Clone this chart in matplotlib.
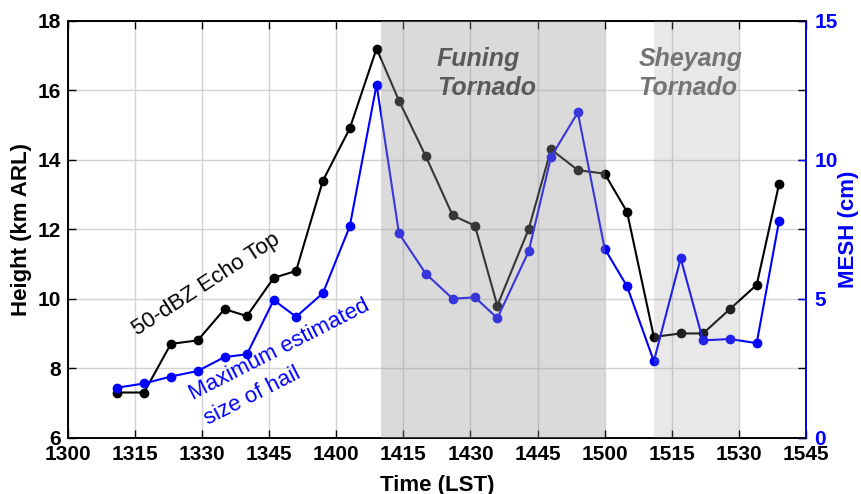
import numpy as np
import matplotlib
matplotlib.use('Agg')
import matplotlib.pyplot as plt

plt.rcParams['font.family'] = ['Liberation Sans', 'DejaVu Sans']

# radar volume times (LST, hhmm)
times = [1311, 1317, 1323, 1329, 1335, 1340, 1346, 1351, 1357, 1403,
         1409, 1414, 1420, 1426, 1431, 1436, 1443, 1448, 1454, 1500,
         1505, 1511, 1517, 1522, 1528, 1534, 1539]

# 50-dBZ echo top height (km ARL)
echo_top = [7.3, 7.3, 8.7, 8.8, 9.7, 9.5, 10.6, 10.8, 13.4, 14.9,
            17.2, 15.7, 14.1, 12.4, 12.1, 9.8, 12.0, 14.3, 13.7, 13.6,
            12.5, 8.9, 9.0, 9.0, 9.7, 10.4, 13.3]

# maximum estimated size of hail (cm)
mesh = [1.8, 1.95, 2.2, 2.4, 2.9, 3.0, 4.95, 4.35, 5.2, 7.6,
        12.7, 7.35, 5.9, 5.0, 5.05, 4.3, 6.7, 10.1, 11.7, 6.8,
        5.45, 2.75, 6.45, 3.5, 3.55, 3.4, 7.8]

# tornado periods (hhmm)
funing = (1410, 1500)
sheyang = (1511, 1530)

xticks = [1300, 1315, 1330, 1345, 1400, 1415, 1430, 1445, 1500,
          1515, 1530, 1545]


def to_min(t):
    # hhmm -> minutes after 13:00
    return (t // 100 - 13) * 60 + t % 100


x = np.array([to_min(t) for t in times])

fig = plt.figure(figsize=(8.61, 4.94), dpi=100)
ax = fig.add_axes([0.079, 0.114, 0.857, 0.844])
ax2 = ax.twinx()

ax.plot(x, echo_top, '-o', color='black', lw=1.5, ms=6, zorder=3)
ax2.plot(x, mesh, '-o', color='#0000ff', lw=1.5, ms=6, zorder=3)

# shaded tornado periods, drawn over the curves
ax2.axvspan(to_min(funing[0]), to_min(funing[1]), facecolor='#999999',
            alpha=0.36, lw=0, zorder=5)
ax2.axvspan(to_min(sheyang[0]), to_min(sheyang[1]), facecolor='#999999',
            alpha=0.22, lw=0, zorder=5)

ax.set_xlim(0, 165)
ax.set_ylim(6, 18)
ax2.set_ylim(0, 15)
ax.set_xticks([to_min(t) for t in xticks])
ax.set_xticklabels([str(t) for t in xticks])
ax.set_yticks(np.arange(6, 19, 2))
ax2.set_yticks([0, 5, 10, 15])

ax.grid(True, color='#d2d2d2', lw=1)
ax.set_axisbelow(True)

ax.tick_params(direction='in', length=6, width=1, top=True, right=True,
               labelsize=15, pad=5)
ax2.tick_params(direction='in', length=6, width=1, colors='#0000ff',
                labelsize=15, pad=6)
for lab in ax.get_xticklabels() + ax.get_yticklabels() + ax2.get_yticklabels():
    lab.set_fontweight('bold')

for s in ax.spines.values():
    s.set_linewidth(1.2)
for s in ax2.spines.values():
    s.set_linewidth(1.2)
ax2.spines['right'].set_color('#0000ff')

ax.set_xlabel('Time (LST)', fontsize=16, fontweight='bold', labelpad=8)
ax.set_ylabel('Height (km ARL)', fontsize=16, fontweight='bold', labelpad=4)
ax2.set_ylabel('MESH (cm)', fontsize=16, fontweight='bold', color='#0000ff',
               labelpad=0)

# curve labels
ax.text(31.5, 10.28, '50-dBZ Echo Top', fontsize=16, rotation=33,
        ha='center', va='baseline', rotation_mode='anchor', color='black')
ax.text(28.0, 7.08, 'Maximum estimated', fontsize=16, rotation=27,
        ha='left', va='baseline', rotation_mode='anchor', color='#0000ff')
ax.text(31.4, 6.37, 'size of hail', fontsize=16, rotation=27,
        ha='left', va='baseline', rotation_mode='anchor', color='#0000ff')

# tornado labels
for lx, c, name in [(82.5, '#5a5a5a', 'Funing'), (127.5, '#747474', 'Sheyang')]:
    ax2.text(lx, 15 - (66 - 20.7) / 27.8, name, fontsize=18, fontweight='bold',
             style='italic', color=c, ha='left', va='baseline', zorder=6)
    ax2.text(lx, 15 - (95 - 20.7) / 27.8, 'Tornado', fontsize=18,
             fontweight='bold', style='italic', color=c, ha='left',
             va='baseline', zorder=6)

fig.savefig('out.png', dpi=100)
